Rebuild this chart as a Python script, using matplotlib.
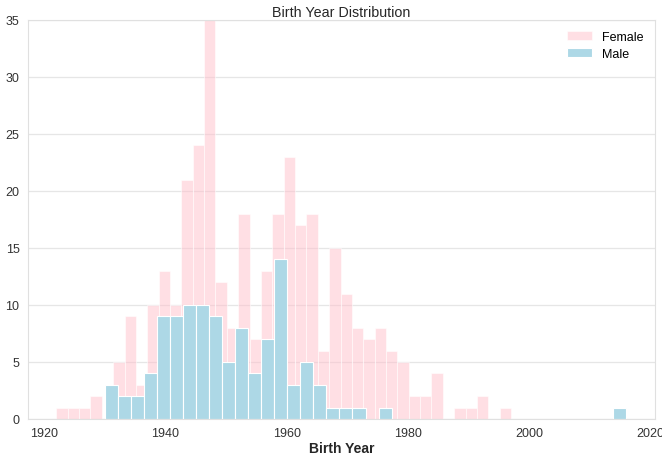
import numpy as np
import matplotlib
matplotlib.use("Agg")
import matplotlib.pyplot as plt

# histogram counts (40 bins each)
female_range = (1922, 1997)
female_counts = [1, 1, 1, 2, 0, 5, 9, 3, 10, 13,
                 10, 21, 24, 35, 12, 8, 18, 7, 13, 18,
                 23, 17, 18, 6, 15, 11, 8, 7, 8, 6,
                 5, 2, 2, 4, 0, 1, 1, 2, 0, 1]

male_range = (1930, 2016)
male_counts = [3, 2, 2, 4, 9, 9, 10, 10, 9, 5,
               8, 4, 7, 14, 3, 5, 3, 1, 1, 1,
               0, 1, 0, 0, 0, 0, 0, 0, 0, 0,
               0, 0, 0, 0, 0, 0, 0, 0, 0, 1]

plt.rcParams["font.family"] = ["Liberation Sans", "DejaVu Sans"]

fig, ax = plt.subplots(figsize=(6.62, 4.56), dpi=100)
fig.subplots_adjust(left=0.042, right=0.989, top=0.954, bottom=0.079)

f_edges = np.linspace(female_range[0], female_range[1], len(female_counts) + 1)
m_edges = np.linspace(male_range[0], male_range[1], len(male_counts) + 1)

ax.hist(f_edges[:-1], bins=f_edges, weights=female_counts, color="pink",
        alpha=0.5, edgecolor="white", linewidth=0.8, label="Female")
ax.hist(m_edges[:-1], bins=m_edges, weights=male_counts, color="lightblue",
        edgecolor="white", linewidth=0.8, label="Male")

ax.set_ylim(0, 35)
ax.set_title("Birth Year Distribution", fontsize=10.3, color="#262626", pad=3)
ax.set_xlabel("Birth Year", fontsize=10, fontweight="bold", color="#262626",
              labelpad=1)

ax.set_axisbelow(True)
ax.grid(axis="y", color="#e6e6e6", linewidth=0.9)
for s in ax.spines.values():
    s.set_color("#e0e0e0")
ax.tick_params(length=0, labelsize=9, colors="#333333", pad=6)

leg = ax.legend(loc="upper right", frameon=False, fontsize=9,
                labelspacing=0.35)

fig.savefig("out.png", dpi=100)
